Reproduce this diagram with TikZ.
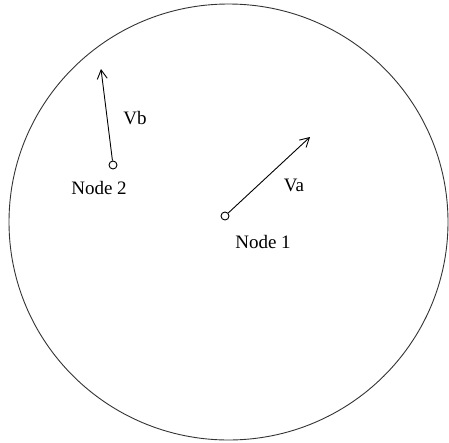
\documentclass[tikz,border=0pt]{standalone}
\usepackage{fontspec}
\setmainfont{Liberation Serif}
\usetikzlibrary{arrows.meta}
\begin{document}
\begin{tikzpicture}[x=1pt,y=-1pt,
  vec/.style={draw, line width=0.9pt, -{Straight Barb[length=9pt,width=10pt,line width=0.9pt]}},
  pt/.style={circle, draw, line width=0.9pt, minimum size=8pt, inner sep=0pt},
  lbl/.style={font=\fontsize{19}{22}\selectfont, inner sep=0pt}]
\useasboundingbox (0,0) rectangle (449,442);
\draw[line width=0.9pt, black!80] (228.5,222) ellipse [x radius=219.5, y radius=218];
\node[pt] (n1) at (225,216) {};
\node[pt] (n2) at (113,165) {};
\coordinate (a) at (310,137);
\coordinate (b) at (101,69);
\draw[vec] (n1) -- (a);
\draw[vec] (n2) -- (b);
\node[lbl] (va) at (294,185) {Va};
\node[lbl] (vb) at (135,118) {Vb};
\node[lbl] (l1) at (263,242) {Node 1};
\node[lbl] (l2) at (99,188) {Node 2};
\end{tikzpicture}
\end{document}
